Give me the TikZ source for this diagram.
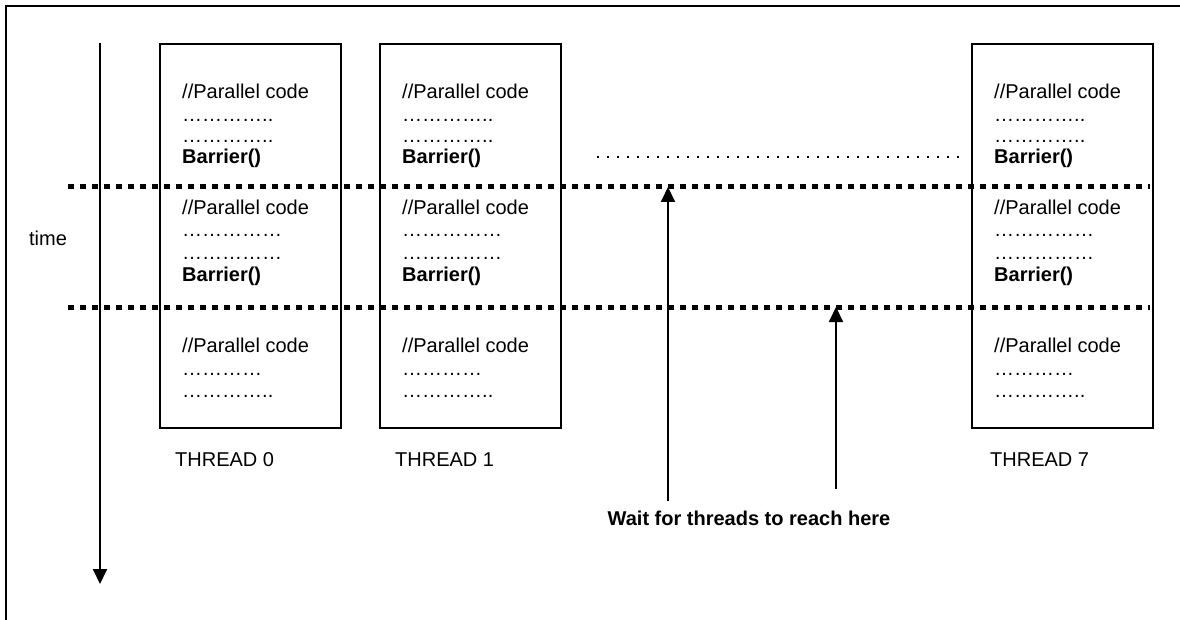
\documentclass[tikz,border=0pt]{standalone}
\usepackage{fontspec}
\setmainfont{Liberation Sans}
\usetikzlibrary{arrows.meta}
\tikzstyle{thread}=[draw=black, line width=2pt, minimum width=181pt,
                minimum height=384pt, inner sep=0, outer sep=0]
\tikzstyle{code}=[anchor=base west, inner sep=0, font=\fontsize{20}{23}\selectfont]
\tikzstyle{bcode}=[anchor=base west, inner sep=0, font=\fontsize{20}{23}\selectfont\bfseries]
\tikzstyle{tlabel}=[inner sep=0, font=\fontsize{20}{23}\selectfont]
\tikzstyle{barrier}=[draw, line width=5pt, dash pattern=on 6pt off 6pt]
\tikzstyle{gap}=[draw, line width=2pt, dash pattern=on 2pt off 8pt]
\tikzstyle{wait}=[-{Triangle[width=14pt,length=15pt]}, draw, line width=2pt]

\begin{document}
\begin{tikzpicture}[x=1pt,y=-1pt]
\useasboundingbox (0,0) rectangle (1180,620);
\draw[line width=2.5pt] (6,620) |- (1180,6);
% time axis
\coordinate (t0) at (100,43);
\coordinate (t1) at (100,584);
\draw[wait] (t0) -- (t1);
\node[tlabel] (time) at (48,238) {time};
% one box per thread
\foreach \n/\x/\l in {0/160/15,1/380/15,7/972/18}{
  \node[thread, anchor=north west] (box\n) at (\x,44) {};
  \node[code] (pa\n) at (\x+22,99) {//Parallel code};
  \node[code] (da\n) at (\x+22,122) {…………..};
  \node[code] (ea\n) at (\x+22,143) {…………..};
  \node[bcode] (ba\n) at (\x+22,164) {Barrier()};
  \node[code] (pb\n) at (\x+22,215) {//Parallel code};
  \node[code] (db\n) at (\x+22,237) {……………};
  \node[code] (eb\n) at (\x+22,260) {……………};
  \node[bcode] (bb\n) at (\x+22,281) {Barrier()};
  \node[code] (pc\n) at (\x+22,352) {//Parallel code};
  \node[code] (dc\n) at (\x+22,375) {…………};
  \node[code] (ec\n) at (\x+22,397) {…………..};
  \node[tlabel, anchor=west] (th\n) at (\x+\l,460) {THREAD \n};
}
% threads 2..6
\coordinate (g0) at (597,157);
\coordinate (g1) at (960,157);
\draw[gap] (g0) -- (g1);
% barriers
\coordinate (s1) at (68,187);
\coordinate (e1) at (1150,187);
\coordinate (s2) at (68,307);
\coordinate (e2) at (1150,307);
\draw[barrier] (s1) -- (e1);
\draw[barrier] (s2) -- (e2);
\coordinate (w1) at (668,501);
\coordinate (w2) at (836,489);
\draw[wait] (w1) -- (w1 |- e1);
\draw[wait] (w2) -- (w2 |- e2);
\node[tlabel, font=\fontsize{20}{23}\selectfont\bfseries] (note) at (749,518)
  {Wait for threads to reach here};
\end{tikzpicture}
\end{document}
